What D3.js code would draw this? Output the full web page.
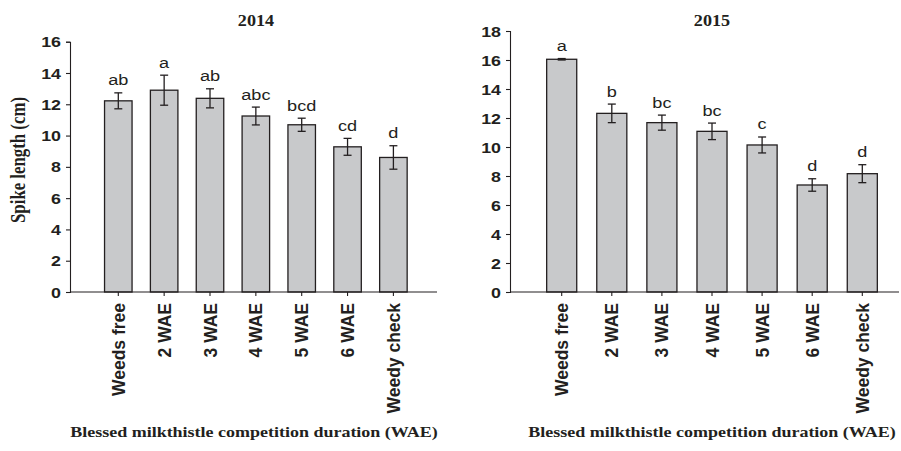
<!DOCTYPE html>
<html>
<head>
<meta charset="utf-8">
<script src="https://cdn.jsdelivr.net/npm/d3@7"></script>
<style>
  html, body { margin: 0; padding: 0; background: #fff; }
  svg { display: block; }
</style>
</head>
<body>
<svg id="chart" width="901" height="451"></svg>
<script>
// Treatments (weeks after emergence of blessed milkthistle competition)
const categories = ["Weeds free", "2 WAE", "3 WAE", "4 WAE", "5 WAE", "6 WAE", "Weedy check"];

// 2014 season: mean spike length, standard error, mean-separation letters
const values2014 = [12.22, 12.9, 12.38, 11.25, 10.69, 9.28, 8.6];
const errors2014 = [0.51, 0.96, 0.61, 0.57, 0.42, 0.54, 0.75];
const letters2014 = ["ab", "a", "ab", "abc", "bcd", "cd", "d"];
const ticks2014 = [0, 2, 4, 6, 8, 10, 12, 14, 16];

// 2015 season
const values2015 = [16.05, 12.32, 11.68, 11.08, 10.14, 7.38, 8.16];
const errors2015 = [0.05, 0.64, 0.52, 0.57, 0.55, 0.43, 0.62];
const letters2015 = ["a", "b", "bc", "bc", "c", "d", "d"];
const ticks2015 = [0, 2, 4, 6, 8, 10, 12, 14, 16, 18];

const ink = "#231f20";
const barFill = "#c8c9cb";
const sansFont = "'Liberation Sans', Arial, sans-serif";
const serifFont = "'Liberation Serif', 'Times New Roman', serif";
const sx = 1.17; // horizontal stretch applied to text

const svg = d3.select("#chart");

function stretchedText(g, x, y, txt, opts) {
  return g.append("text")
    .attr("transform", `translate(${x},${y}) scale(${opts.scale || sx},1)`)
    .attr("text-anchor", opts.anchor || "middle")
    .attr("font-family", opts.family)
    .attr("font-size", opts.size)
    .attr("font-weight", opts.weight || "normal")
    .attr("fill", ink)
    .text(txt);
}

function panel(cfg) {
  const g = svg.append("g");
  const y = d3.scaleLinear().domain([0, cfg.ymax]).range([292, cfg.yTop]);
  const x = d3.scalePoint().domain(categories).range(cfg.xRange);
  const bw = x.step() * 0.6;

  // y axis
  const yAxis = d3.axisLeft(y).tickValues(cfg.ticks).tickSize(4).tickPadding(5).tickFormat(d3.format("d"));
  const ya = g.append("g").attr("transform", `translate(${cfg.x0},0)`).call(yAxis);
  ya.select(".domain").attr("stroke", ink).attr("stroke-width", 1.1);
  ya.selectAll(".tick line").attr("stroke", ink).attr("stroke-width", 1.1);
  ya.selectAll(".tick text").remove();
  cfg.ticks.forEach(t => {
    stretchedText(g, cfg.x0 - 9, y(t) + 5.6, String(t),
      { anchor: "end", family: sansFont, size: 15.5, weight: "bold", scale: 1.15 });
  });

  // bars
  g.selectAll("rect.bar").data(cfg.values).join("rect")
    .attr("class", "bar")
    .attr("x", (d, i) => x(categories[i]) - bw / 2)
    .attr("y", d => y(d))
    .attr("width", bw)
    .attr("height", d => y(0) - y(d))
    .attr("fill", barFill)
    .attr("stroke", ink)
    .attr("stroke-width", 1.3);

  // x axis line and ticks
  g.append("line")
    .attr("x1", cfg.x0).attr("x2", cfg.x1)
    .attr("y1", y(0)).attr("y2", y(0))
    .attr("stroke", ink).attr("stroke-width", 1.2);
  categories.forEach(c => {
    g.append("line")
      .attr("x1", x(c)).attr("x2", x(c))
      .attr("y1", y(0)).attr("y2", y(0) + 4)
      .attr("stroke", ink).attr("stroke-width", 1.1);
  });

  // error bars
  cfg.values.forEach((v, i) => {
    const cx = x(categories[i]);
    const e = cfg.errors[i];
    const top = y(v + e), bot = y(v - e);
    g.append("line").attr("x1", cx).attr("x2", cx).attr("y1", top).attr("y2", bot)
      .attr("stroke", ink).attr("stroke-width", 1.3);
    [top, bot].forEach(yy => {
      g.append("line").attr("x1", cx - 4).attr("x2", cx + 4).attr("y1", yy).attr("y2", yy)
        .attr("stroke", ink).attr("stroke-width", 1.3);
    });
    // mean-separation letter
    stretchedText(g, cx, top - 7.5, cfg.letters[i],
      { family: sansFont, size: 15.5, scale: 1.17 });
  });

  // category labels (rotated)
  categories.forEach(c => {
    g.append("text")
      .attr("transform", `translate(${x(c) + 6.5},303) scale(1.08,1) rotate(-90)`)
      .attr("text-anchor", "end")
      .attr("font-family", sansFont)
      .attr("font-size", 17.5)
      .attr("font-weight", "bold")
      .attr("fill", ink)
      .text(c);
  });

  // panel title
  stretchedText(g, cfg.titleX, 26, cfg.title,
    { family: serifFont, size: 16.5, weight: "bold", scale: 1.1 });

  // x axis title
  stretchedText(g, cfg.xTitleX, 437, "Blessed milkthistle competition duration (WAE)",
    { family: serifFont, size: 15, weight: "bold", scale: 1.2 });
}

panel({
  title: "2014", titleX: 256, xTitleX: 254,
  values: values2014, errors: errors2014, letters: letters2014, ticks: ticks2014,
  ymax: 16, yTop: 41.7, x0: 70, x1: 437, xRange: [118.3, 393.4]
});

panel({
  title: "2015", titleX: 712, xTitleX: 712,
  values: values2015, errors: errors2015, letters: letters2015, ticks: ticks2015,
  ymax: 18, yTop: 31, x0: 510, x1: 899, xRange: [561.7, 862.3]
});

// shared y axis title
svg.append("text")
  .attr("transform", "translate(25,160) scale(1.2,1) rotate(-90)")
  .attr("text-anchor", "middle")
  .attr("font-family", serifFont)
  .attr("font-size", 16.8)
  .attr("font-weight", "bold")
  .attr("fill", ink)
  .text("Spike length (cm)");
</script>
</body>
</html>
